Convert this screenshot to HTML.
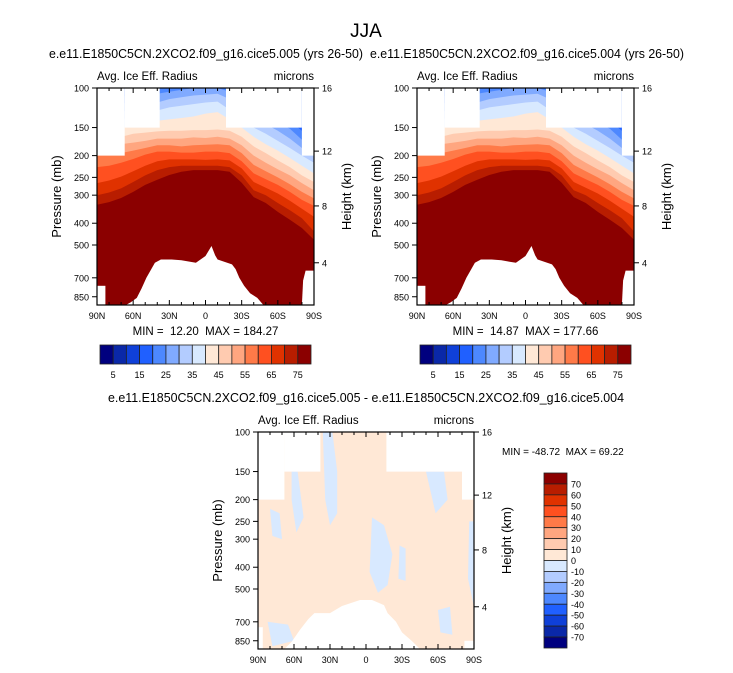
<!DOCTYPE html>
<html><head><meta charset="utf-8"><style>
html,body{margin:0;padding:0;background:#fff}
svg{display:block;font-family:"Liberation Sans",Arial,sans-serif}
text{white-space:pre}
</style></head><body>
<svg id="c" width="733" height="673" viewBox="0 0 733 673">
<text x="366" y="37" font-size="19" text-anchor="middle">JJA</text>
</svg>
<script>
const lats=[90,80,70,60,50,40,30,20,10,0,-10,-20,-30,-40,-50,-60,-70,-80,-90];
const levels=[20,25,30,35,40,45,50,55,60,65,70,75];
const bnd20=[120,115,110,106,102,100,100,100,95,95,95,98,104,115,122,130,140,155,160];
const bnd25=[130,125,118,114,110,106,104,102,100,100,100,104,112,124,132,142,152,170,180];
const bnd30=[140,135,128,124,120,116,112,110,108,107,106,112,122,135,145,155,168,185,195];
const bnd35=[150,145,138,134,130,126,122,120,118,116,115,125,135,150,160,172,185,200,215];
const bnd40=[160,155,150,146,143,140,138,136,134,130,128,138,150,165,178,190,205,222,240];
const bnd45=[170,168,165,160,158,156,155,155,154,154,153,155,165,182,195,210,225,245,262];
const bnd50=[185,182,178,175,172,168,168,168,166,167,165,168,180,200,215,230,245,265,285];
const bnd55=[200,198,195,190,185,180,180,182,180,179,178,180,195,220,235,250,268,290,310];
const bnd60=[225,222,215,207,198,192,192,194,194,192,192,195,212,240,255,270,290,315,335];
const bnd65=[265,258,248,235,222,212,208,208,208,209,208,210,228,262,278,295,318,345,374];
const bnd70=[300,292,280,262,245,232,225,222,222,222,222,225,245,285,300,325,350,380,435];
const bnd75=[331,322,309,290,270,256,244,236,232,232,232,236,264,306,325,356,386,420,474];
const bounds=[bnd20,bnd25,bnd30,bnd35,bnd40,bnd45,bnd50,bnd55,bnd60,bnd65,bnd70,bnd75];
const colors=["#00007f","#0a28a8","#0f40d8","#2060ff","#4d88ff","#80aaff","#b3ccff","#d8e9ff","#ffe8d6","#ffcbb0","#ffa680","#ff7a48","#ff5020","#e03200","#b81d00","#8b0000"];
const cbarLabels=[5,15,25,35,45,55,65,75];
const pTicks=[100,150,200,250,300,400,500,700,850];
const hTicks=[[16,100],[12,191],[8,335],[4,600]];
const latTicks=[90,60,30,0,-30,-60,-90];
const latNames=["90N","60N","30N","0","30S","60S","90S"];
const mountTop=[[66,925],[62,900],[57,860],[53,780],[49,700],[45,640],[42,600],[37,580],[28,580],[20,585],[8,600],[0,560],[-5,505],[-8,555],[-10,580],[-22,610],[-25,640],[-28,700],[-32,760],[-37,820],[-43,860],[-48,925]];
const mountDiff=[[68,925],[62,860],[55,760],[48,680],[43,640],[30,640],[20,595],[5,560],[-5,560],[-15,590],[-18,640],[-25,700],[-30,780],[-38,850],[-45,925]];
const bluePatches=[
 [[36,100],[28,100],[24,150],[24,230],[30,260],[34,200]],
 [[62,150],[57,150],[52,240],[58,280],[62,200]],
 [[-5,240],[-15,260],[-22,350],[-18,480],[-10,520],[-3,420]],
 [[-28,320],[-33,330],[-33,460],[-27,450]],
 [[-50,150],[-65,150],[-68,200],[-58,230]],
 [[-86,250],[-90,250],[-90,600],[-85,450]],
 [[80,220],[72,230],[70,300],[78,290]],
 [[-60,620],[-70,600],[-72,800],[-62,780]],
 [[82,700],[65,720],[60,850],[78,900]]];
const NS="http://www.w3.org/2000/svg";
const svg=document.getElementById('c');
function el(t,a,parent){const e=document.createElementNS(NS,t);for(const k in a)e.setAttribute(k,a[k]);(parent||svg).appendChild(e);return e;}
function txt(x,y,s,size,anchor,parent,extra){const e=el('text',Object.assign({x:x,y:y,'font-size':size,'text-anchor':anchor||'middle'},extra||{}),parent);e.textContent=s;return e;}
const PB=925;
function mk(x0,y0,w,h){return{x:lat=>x0+(90-lat)/180*w,y:p=>y0+Math.log(Math.max(p,100)/100)/Math.log(PB/100)*h};}
function poly(pts,fill,parent,name){const e=el('polygon',{points:pts.map(q=>q[0].toFixed(1)+','+q[1].toFixed(1)).join(' '),fill:fill},parent);

return e;}
function masks(g,s,x0,y0,w,h,a,b,c,d){
 const W='#fff';
 poly([[s.x(90),y0],[s.x(a),y0],[s.x(a),s.y(200)],[s.x(90),s.y(200)]],W,g,'missing-region');
 poly([[s.x(a),y0],[s.x(b),y0],[s.x(b),s.y(150)],[s.x(a),s.y(150)]],W,g,'missing-region');
 poly([[s.x(c),y0],[s.x(d),y0],[s.x(d),s.y(150)],[s.x(c),s.y(150)]],W,g,'missing-region');
 poly([[s.x(d),y0],[s.x(-90),y0],[s.x(-90),s.y(200)],[s.x(d),s.y(200)]],W,g,'missing-region');
}
function axes(g,s,x0,y0,w,h,title,tcx,tlen){
 el('rect',{x:x0,y:y0,width:w,height:h,fill:'none',stroke:'#000','stroke-width':1.2},g);
 txt(x0,y0-8,'Avg. Ice Eff. Radius',11.5,'start',g);
 txt(x0+w,y0-8,'microns',11.5,'end',g);
 pTicks.forEach(p=>{const y=s.y(p);el('line',{x1:x0-5,x2:x0,y1:y,y2:y,stroke:'#000'},g);txt(x0-8,y+3.5,String(p),9,'end',g);});
 hTicks.forEach(t=>{const y=s.y(t[1]);el('line',{x1:x0+w,x2:x0+w+5,y1:y,y2:y,stroke:'#000'},g);txt(x0+w+8,y+3.5,String(t[0]),9,'start',g);});
 for(let l=90;l>=-90;l-=10){const x=s.x(l);const big=l%30===0;el('line',{x1:x,x2:x,y1:y0+h,y2:y0+h-(big?5:3),stroke:'#000'},g);el('line',{x1:x,x2:x,y1:y0,y2:y0+(big?5:3),stroke:'#000'},g);}
 latTicks.forEach((l,i)=>txt(s.x(l),y0+h+14,latNames[i],9,'middle',g));
 txt(x0-36,y0+h/2,'Pressure (mb)',13,'middle',g,{transform:`rotate(-90 ${x0-36} ${y0+h/2})`});
 txt(x0+w+37,y0+h/2,'Height (km)',13,'middle',g,{transform:`rotate(-90 ${x0+w+37} ${y0+h/2})`});
 txt(tcx,y0-30,title,12.5,'middle',g,{textLength:tlen,lengthAdjust:'spacingAndGlyphs'});
}
function topPanel(x0,y0,w,h,title,mm,name,tcx){
 const g=el('g',{});
 const s=mk(x0,y0,w,h);
 poly([[x0,y0],[x0+w,y0],[x0+w,y0+h],[x0,y0+h]],colors[3],g,'band-base');
 bounds.forEach((b,k)=>{const pts=lats.map((l,i)=>[s.x(l),s.y(b[i])]);pts.push([x0+w,y0+h],[x0,y0+h]);poly(pts,colors[levels[k]/5],g,'band-'+levels[k]);});
 masks(g,s,x0,y0,w,h,67,38,-17,-80);
 const mp=mountTop.map(q=>[s.x(q[0]),s.y(q[1])]);poly(mp,'#fff',g,'topography-mask');
 poly([[s.x(90),s.y(760)],[s.x(83),s.y(760)],[s.x(83),y0+h],[s.x(90),y0+h]],'#fff',g,'topography-mask');
 poly([[s.x(-80),y0+h],[s.x(-81),s.y(720)],[s.x(-83),s.y(650)],[s.x(-90),s.y(650)],[s.x(-90),y0+h]],'#fff',g,'topography-mask');
 axes(g,s,x0,y0,w,h,title,tcx,314);
 txt(x0+w/2,y0+h+30,mm,11.5,'middle',g);
 const cb=el('g',{},g);
 const cx=x0+3,cw=211,cy=y0+h+40,bw=cw/16;
 colors.forEach((c,i)=>el('rect',{x:cx+i*bw,y:cy,width:bw,height:19,fill:c,stroke:'#222','stroke-width':0.8},cb));
 cbarLabels.forEach((v,i)=>txt(cx+(v/5)*bw,cy+33,String(v),9,'middle',cb));
}
topPanel(97,88,217,217,'e.e11.E1850C5CN.2XCO2.f09_g16.cice5.005 (yrs 26-50)','MIN =  12.20  MAX = 184.27','panel-005',206);
topPanel(417,88,217,217,'e.e11.E1850C5CN.2XCO2.f09_g16.cice5.004 (yrs 26-50)','MIN =  14.87  MAX = 177.66','panel-004',527);
(function(){
 const x0=258,y0=432,w=216,h=217;
 const g=el('g',{});
 const s=mk(x0,y0,w,h);
 poly([[x0,y0],[x0+w,y0],[x0+w,y0+h],[x0,y0+h]],colors[8],g,'diff-positive-region');
 bluePatches.forEach(pp=>poly(pp.map(q=>[s.x(q[0]),s.y(q[1])]),colors[7],g,'diff-negative-patch'));
 masks(g,s,x0,y0,w,h,68,38,-17,-80);
 poly(mountDiff.map(q=>[s.x(q[0]),s.y(q[1])]),'#fff',g,'topography-mask');
 poly([[s.x(90),s.y(740)],[s.x(86),s.y(740)],[s.x(86),y0+h],[s.x(90),y0+h]],'#fff',g,'topography-mask');
 poly([[s.x(-82),y0+h],[s.x(-82),s.y(850)],[s.x(-90),s.y(850)],[s.x(-90),y0+h]],'#fff',g,'topography-mask');
 axes(g,s,x0,y0,w,h,'e.e11.E1850C5CN.2XCO2.f09_g16.cice5.005 - e.e11.E1850C5CN.2XCO2.f09_g16.cice5.004',366,516);
 txt(502,455,'MIN = -48.72  MAX = 69.22',10,'start',g);
 const cb=el('g',{},g);
 const cx=544,cy=473,bh=175/16;
 colors.slice().reverse().forEach((c,i)=>el('rect',{x:cx,y:cy+i*bh,width:23,height:bh,fill:c,stroke:'#222','stroke-width':0.8},cb));
 for(let i=1;i<16;i++){txt(cx+27,cy+i*bh+3.5,String(80-i*10),9,'start',cb);}
})();
</script>
</body></html>
